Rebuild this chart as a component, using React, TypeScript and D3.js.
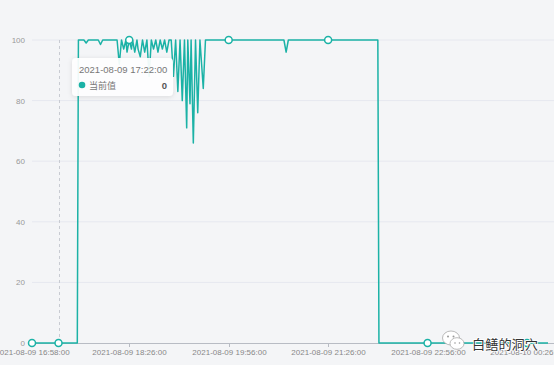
import React from "react";
import * as d3 from "d3";

// ---- data ----
const times: string[] = [
  "2021-08-09 16:58", "2021-08-09 17:22", "2021-08-09 17:39", "2021-08-09 17:40",
  "2021-08-09 17:45", "2021-08-09 17:47", "2021-08-09 17:49", "2021-08-09 17:58",
  "2021-08-09 18:00", "2021-08-09 18:02", "2021-08-09 18:15", "2021-08-09 18:17",
  "2021-08-09 18:19", "2021-08-09 18:21", "2021-08-09 18:23", "2021-08-09 18:24",
  "2021-08-09 18:26", "2021-08-09 18:28", "2021-08-09 18:29", "2021-08-09 18:31",
  "2021-08-09 18:33", "2021-08-09 18:34", "2021-08-09 18:36", "2021-08-09 18:38",
  "2021-08-09 18:40", "2021-08-09 18:42", "2021-08-09 18:44", "2021-08-09 18:46",
  "2021-08-09 18:48", "2021-08-09 18:50", "2021-08-09 18:52", "2021-08-09 18:54",
  "2021-08-09 18:56", "2021-08-09 18:58", "2021-08-09 19:00", "2021-08-09 19:02",
  "2021-08-09 19:04", "2021-08-09 19:06", "2021-08-09 19:08", "2021-08-09 19:10",
  "2021-08-09 19:12", "2021-08-09 19:14", "2021-08-09 19:16", "2021-08-09 19:18",
  "2021-08-09 19:19", "2021-08-09 19:21", "2021-08-09 19:22", "2021-08-09 19:24",
  "2021-08-09 19:26", "2021-08-09 19:28", "2021-08-09 19:30", "2021-08-09 19:33",
  "2021-08-09 19:35", "2021-08-09 19:56", "2021-08-09 20:46", "2021-08-09 20:48",
  "2021-08-09 20:50", "2021-08-09 21:26", "2021-08-09 22:11", "2021-08-09 22:12",
  "2021-08-09 22:56", "2021-08-10 00:26", "2021-08-10 00:45",
];
const values: number[] = [
  0, 0, 0, 100,
  100, 99, 100, 100,
  98.5, 100, 100, 92,
  100, 97, 100, 96,
  100, 97, 100, 96,
  100, 97, 94.5, 100,
  96, 100, 88, 100,
  97, 100, 96, 100,
  97, 100, 96, 100,
  100, 88, 100, 83,
  100, 80, 100, 71,
  100, 79, 100, 66,
  100, 76, 100, 84,
  100, 100, 100, 96,
  100, 100, 100, 0,
  0, 0, 0,
];
const markerTimes: string[] = [
  "2021-08-09 16:58", "2021-08-09 17:22", "2021-08-09 18:26", "2021-08-09 19:56",
  "2021-08-09 21:26", "2021-08-09 22:56", "2021-08-10 00:26",
];
const xTickTimes: string[] = [
  "2021-08-09 16:58", "2021-08-09 18:26", "2021-08-09 19:56",
  "2021-08-09 21:26", "2021-08-09 22:56", "2021-08-10 00:26",
];
const yTicks: number[] = [0, 20, 40, 60, 80, 100];
const hoverTime = "2021-08-09 17:22";
const seriesName = "当前值";
const watermark = "白鳝的洞穴";

const parse = d3.timeParse("%Y-%m-%d %H:%M");
const fmt = d3.timeFormat("%Y-%m-%d %H:%M:%S");

const W = 554;
const H = 365;
const LEFT = 32;
const RIGHT = 548;
const TOP = 40;
const BOTTOM = 343;
const COLOR = "#1bb2a6";
const FONT = "'Liberation Sans', Arial, 'Noto Sans CJK SC', sans-serif";

export default function App() {
  const data = times.map((t, i) => ({ t: parse(t) as Date, v: values[i] }));
  const x = d3
    .scaleTime()
    .domain([data[0].t, data[data.length - 1].t])
    .range([LEFT, RIGHT]);
  const y = d3.scaleLinear().domain([0, 100]).range([BOTTOM, TOP]);
  const line = d3
    .line<{ t: Date; v: number }>()
    .x((d) => x(d.t))
    .y((d) => y(d.v));

  const markers = markerTimes.map((m) => data.find((p) => +p.t === +(parse(m) as Date))!);
  const hover = data.find((p) => +p.t === +(parse(hoverTime) as Date))!;
  const hx = x(hover.t);

  const tipX = hx + 13.5;
  const tipY = 58;

  return (
    <svg
      width={W}
      height={H}
      style={{ position: "absolute", left: 0, top: 0, background: "#f4f5f7" }}
      fontFamily={FONT}
    >
      <defs>
        <filter id="shadow" x="-20%" y="-30%" width="140%" height="160%">
          <feDropShadow dx="0" dy="1" stdDeviation="2.5" floodColor="#000" floodOpacity="0.12" />
        </filter>
      </defs>
      <rect x={0} y={0} width={W} height={H} fill="#f4f5f7" />
      {yTicks.filter((t) => t > 0).map((t) => (
        <line key={t} x1={LEFT} x2={W} y1={y(t)} y2={y(t)} stroke="#e6e8ef" strokeWidth={1} />
      ))}
      {yTicks.map((t) => (
        <text key={t} x={25} y={y(t) + 3} fontSize={8} fill="#999" textAnchor="end">
          {t}
        </text>
      ))}
      <line x1={LEFT} x2={W} y1={BOTTOM + 0.5} y2={BOTTOM + 0.5} stroke="#b8bcc4" strokeWidth={1} />
      {xTickTimes.map((t) => {
        const xx = Math.round(x(parse(t) as Date)) + 0.5;
        return (
          <g key={t}>
            <line x1={xx} x2={xx} y1={BOTTOM} y2={BOTTOM + 4} stroke="#b8bcc4" />
            <text x={xx} y={355} fontSize={8} fill="#888" textAnchor="middle">
              {fmt(parse(t) as Date)}
            </text>
          </g>
        );
      })}
      <line x1={Math.round(hx) + 0.5} x2={Math.round(hx) + 0.5} y1={TOP} y2={BOTTOM} stroke="#c8cbd2" strokeDasharray="3,3" />
      <path d={line(data) || ""} fill="none" stroke={COLOR} strokeWidth={1.5} strokeLinejoin="round" />
      {markers.map((m, i) => (
        <circle key={i} cx={x(m.t)} cy={y(m.v)} r={3.5} fill="#fff" stroke={COLOR} strokeWidth={1.5} />
      ))}
      <g>
        <rect x={tipX} y={tipY} width={101} height={38} rx={4} fill="rgba(255,255,255,0.92)" filter="url(#shadow)" />
        <text x={tipX + 7} y={tipY + 14.5} fontSize={9.5} fill="#777">
          {fmt(hover.t)}
        </text>
        <circle cx={tipX + 10} cy={tipY + 27} r={3.3} fill={COLOR} />
        <text x={tipX + 17} y={tipY + 30.5} fontSize={9} fill="#777">
          {seriesName}
        </text>
        <text x={tipX + 95} y={tipY + 30.5} fontSize={9.5} fill="#555" fontWeight="bold" textAnchor="end">
          {hover.v}
        </text>
      </g>
      <g>
        <ellipse cx={451} cy={338} rx={8.5} ry={7} fill="#fff" stroke="#aaa" strokeWidth={0.8} />
        <ellipse cx={457} cy={343.5} rx={7} ry={5.8} fill="#fff" stroke="#aaa" strokeWidth={0.8} />
        <circle cx={448} cy={336.5} r={1} fill="#999" />
        <circle cx={453.5} cy={336.5} r={1} fill="#999" />
        <circle cx={455} cy={343} r={0.8} fill="#999" />
        <circle cx={459.5} cy={343} r={0.8} fill="#999" />
        <text x={472} y={349} fontSize={13} fill="#333" stroke="#fff" strokeWidth={1.5} paintOrder="stroke" textLength={66} lengthAdjust="spacingAndGlyphs">
          {watermark}
        </text>
      </g>
      <text x={23} y={371} fontSize={8} fill="#999" textAnchor="middle">0</text>
    </svg>
  );
}
